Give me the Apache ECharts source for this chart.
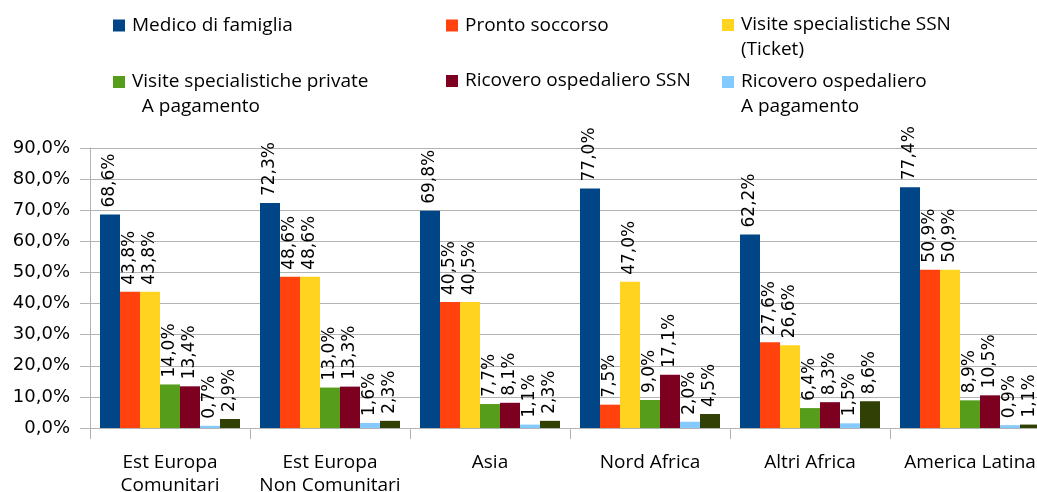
<!DOCTYPE html>
<html>
<head>
<meta charset="utf-8">
<script src="https://cdn.jsdelivr.net/npm/echarts@6/dist/echarts.min.js"></script>
<style>
  html, body { margin: 0; padding: 0; background: #fff; }
  #chart { width: 1037px; height: 492px; }
</style>
</head>
<body>
<div id="chart"></div>
<script>
// Areas of origin
const categories = ['Est Europa\nComunitari', 'Est Europa\nNon Comunitari', 'Asia', 'Nord Africa', 'Altri Africa', 'America Latina'];

// Share of respondents using each service (%)
const medicoFamiglia      = [68.6, 72.3, 69.8, 77.0, 62.2, 77.4];
const prontoSoccorso      = [43.8, 48.6, 40.5, 7.5, 27.6, 50.9];
const visiteSSN           = [43.8, 48.6, 40.5, 47.0, 26.6, 50.9];
const visitePrivate       = [14.0, 13.0, 7.7, 9.0, 6.4, 8.9];
const ricoveroSSN         = [13.4, 13.3, 8.1, 17.1, 8.3, 10.5];
const ricoveroPagamento   = [0.7, 1.6, 1.1, 2.0, 1.5, 0.9];
const altro               = [2.9, 2.3, 2.3, 4.5, 8.6, 1.1];

const seriesNames = [
  'Medico di famiglia',
  'Pronto soccorso',
  'Visite specialistiche SSN\n(Ticket)',
  'Visite specialistiche private\n  A pagamento',
  'Ricovero ospedaliero SSN',
  'Ricovero ospedaliero\nA pagamento',
  'Altro'
];
const seriesData = [medicoFamiglia, prontoSoccorso, visiteSSN, visitePrivate, ricoveroSSN, ricoveroPagamento, altro];
const colors = ['#004586', '#ff420e', '#ffd320', '#579d1c', '#7e0021', '#83caff', '#314004'];

const yTicks = { min: 0, max: 90, interval: 10 };

const fmtPct = v => v.toFixed(1).replace('.', ',') + '%';

const textFont = '"Open Sans", Lato, sans-serif';
const valueFont = '"DejaVu Sans", sans-serif';

// square swatch; the two-line variant keeps the swatch level with the first text line
const squareIcon = 'rect';
const squareIconTall = 'path://M0,0h12v12h-12zM0,37h0.01';

// legend laid out in three columns, two rows
const legendSlots = [
  { left: 113, top: 13 },
  { left: 446, top: 13 },
  { left: 722, top: 12.5 },
  { left: 113, top: 69.5 },
  { left: 446, top: 68.5 },
  { left: 722, top: 69.5 }
];

const legends = legendSlots.map((pos, i) => {
  const twoLines = seriesNames[i].indexOf('\n') >= 0;
  return {
    left: pos.left,
    top: pos.top,
    padding: 0,
    itemWidth: 12,
    itemHeight: twoLines ? 37 : 12,
    itemGap: 0,
    selectedMode: false,
    icon: twoLines ? squareIconTall : squareIcon,
    data: [seriesNames[i]],
    textStyle: {
      fontFamily: textFont,
      fontSize: 19,
      color: '#000',
      lineHeight: 25,
      padding: [0, 0, 0, 2]
    }
  };
});

const chart = echarts.init(document.getElementById('chart'), null, { renderer: 'canvas' });

chart.setOption({
  animation: false,
  color: colors,
  legend: legends,
  grid: { left: 90, right: -13, top: 148, bottom: 64, containLabel: false, outerBoundsMode: 'none' },
  xAxis: {
    type: 'category',
    data: categories,
    axisLine: { show: true, lineStyle: { color: '#b3b3b3', width: 1 } },
    axisTick: { show: true, length: 11, lineStyle: { color: '#b3b3b3' } },
    axisLabel: {
      interval: 0,
      margin: 23,
      fontFamily: textFont,
      fontSize: 19,
      lineHeight: 23,
      color: '#000'
    }
  },
  yAxis: {
    type: 'value',
    min: yTicks.min,
    max: yTicks.max,
    interval: yTicks.interval,
    axisLine: { show: true, lineStyle: { color: '#b3b3b3', width: 1 } },
    axisTick: { show: true, length: 10, lineStyle: { color: '#b3b3b3' } },
    splitLine: { show: true, lineStyle: { color: '#b3b3b3', width: 1 } },
    axisLabel: {
      margin: 20,
      fontFamily: valueFont,
      fontSize: 18,
      color: '#000',
      formatter: v => fmtPct(v)
    }
  },
  series: seriesData.map((d, i) => ({
    name: seriesNames[i],
    type: 'bar',
    data: d,
    barWidth: 20,
    barGap: '0%',
    barCategoryGap: '12.5%',
    label: {
      show: true,
      position: 'top',
      rotate: 90,
      align: 'left',
      verticalAlign: 'middle',
      distance: 7,
      fontFamily: valueFont,
      fontSize: 17,
      color: '#000',
      formatter: p => fmtPct(p.value)
    }
  }))
});
</script>
</body>
</html>
